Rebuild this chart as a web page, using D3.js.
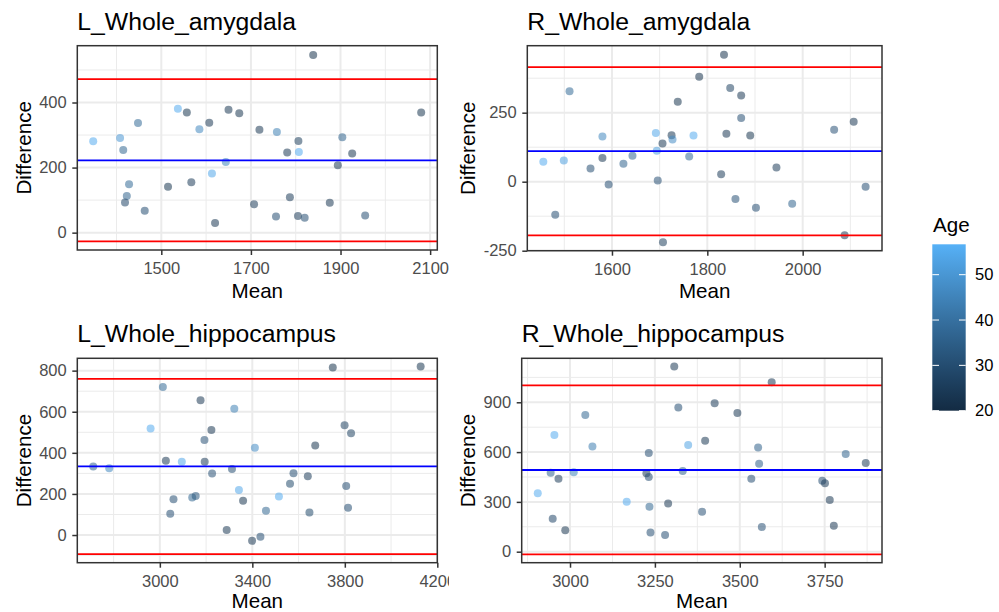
<!DOCTYPE html>
<html>
<head>
  <meta charset="utf-8">
  <script src="https://d3js.org/d3.v7.min.js"></script>
  <style>
    body {
      margin: 0;
      background-color: #fff;
      font-family: "Liberation Sans", Arial, Helvetica, sans-serif;
    }

    .tick text {
      fill: #4d4d4d;
      font-size: 16.5px;
      font-family: "Liberation Sans", Arial, sans-serif;
    }

    .tick line {
      stroke: #333;
      stroke-width: 1.5px;
    }

    .plot-title {
      font-size: 24.75px;
      fill: #000;
    }

    .axis-title {
      font-size: 20.6px;
      fill: #000;
    }
  </style>
</head>
<body>
  <div id="chart"></div>
  <script>
    // L_Whole_amygdala
    const lAmyMean = [1348, 1408, 1415, 1448, 1428, 1423, 1419, 1463, 1515, 1537, 1557, 1567,
      1585, 1607, 1613, 1620, 1644, 1650, 1674, 1707, 1719, 1756, 1758, 1781,
      1787, 1806, 1807, 1805, 1820, 1839, 1876, 1894, 1904, 1926, 1955, 2080];
    const lAmyDiff = [281, 291, 254, 337, 149, 113, 93, 67, 141, 381, 369, 155,
      318, 338, 182, 30, 217, 378, 367, 87, 316, 50, 309, 246,
      109, 282, 248, 51, 46, 546, 92, 207, 293, 243, 53, 369];
    const lAmyAge = [55, 50, 37, 38, 38, 36, 28, 30, 23, 55, 23, 25,
      46, 24, 54, 24, 45, 24, 23, 25, 24, 30, 44, 24,
      25, 26, 55, 25, 30, 22, 24, 24, 36, 23, 30, 23];
    const lAmyRef = [-26.6, 222.4, 471.7];

    // R_Whole_amygdala
    const rAmyMean = [1456, 1481, 1499, 1511, 1555, 1580, 1580, 1593, 1624, 1643, 1692, 1694,
      1696, 1706, 1707, 1725, 1727, 1738, 1762, 1771, 1783, 1829, 1835, 1840,
      1848, 1859, 1871, 1871, 1890, 1902, 1945, 1978, 2066, 2088, 2107, 2132];
    const rAmyDiff = [72, -120, 77, 328, 48, 164, 86, -10, 65, 94, 176, 112,
      4, 138, -219, 168, 153, 290, 91, 167, 380, 27, 460, 174,
      339, -63, 312, 231, 167, -94, 51, -80, 188, -194, 217, -18];
    const rAmyAge = [55, 30, 52, 38, 30, 46, 24, 30, 36, 37, 54, 52,
      31, 24, 26, 24, 47, 23, 38, 55, 22, 25, 22, 24,
      27, 31, 24, 30, 23, 30, 25, 36, 31, 24, 24, 30];
    const rAmyRef = [-194.4, 111.1, 415.4];

    // L_Whole_hippocampus
    const lHipMean = [2712, 2781, 2960, 3013, 3026, 3045, 3059, 3095, 3140, 3155, 3176, 3193,
      3194, 3223, 3226, 3289, 3312, 3322, 3342, 3360, 3399, 3411, 3435, 3459,
      3515, 3563, 3578, 3640, 3647, 3672, 3748, 3799, 3806, 3814, 3827, 4128];
    const lHipDiff = [334, 325, 518, 720, 362, 104, 174, 357, 182, 190, 656, 462,
      357, 511, 299, 24, 321, 615, 219, 167, -28, 425, -8, 118,
      187, 250, 300, 286, 109, 436, 815, 534, 238, 133, 495, 820];
    const lHipAge = [36, 46, 55, 38, 24, 30, 30, 54, 37, 33, 24, 31,
      25, 24, 31, 24, 30, 44, 54, 23, 24, 47, 30, 37,
      55, 29, 30, 25, 29, 23, 22, 27, 30, 30, 27, 23];
    const lHipRef = [-92.5, 334.3, 759.4];

    // R_Whole_hippocampus
    const rHipMean = [2905, 2943, 2949, 2954, 2966, 2986, 3011, 3045, 3066, 3167, 3225, 3232,
      3232, 3234, 3237, 3280, 3289, 3307, 3319, 3332, 3348, 3389, 3398, 3426,
      3493, 3534, 3554, 3557, 3565, 3594, 3743, 3751, 3765, 3777, 3812, 3871];
    const rHipDiff = [352, 476, 199, 703, 440, 129, 478, 824, 633, 301, 472, 595,
      450, 271, 115, 100, 291, 1115, 868, 486, 643, 241, 669, 894,
      836, 440, 627, 530, 149, 1020, 428, 412, 311, 157, 589, 534];
    const rHipAge = [55, 36, 28, 55, 25, 23, 45, 37, 43, 55, 24, 30,
      30, 37, 30, 30, 24, 24, 30, 36, 53, 31, 24, 25,
      24, 30, 35, 35, 31, 24, 30, 25, 24, 24, 36, 25];
    const rHipRef = [-16.1, 492.2, 1002.4];

    // Tick values
    const lAmyXTicks = [1500, 1700, 1900, 2100];
    const lAmyXMinor = [1400, 1600, 1800, 2000];
    const lAmyYTicks = [0, 200, 400];
    const lAmyYMinor = [100, 300, 500];

    const rAmyXTicks = [1600, 1800, 2000];
    const rAmyXMinor = [1500, 1700, 1900, 2100];
    const rAmyYTicks = [-250, 0, 250];
    const rAmyYMinor = [-125, 125, 375];

    const lHipXTicks = [3000, 3400, 3800, 4200];
    const lHipXMinor = [2800, 3200, 3600, 4000];
    const lHipYTicks = [0, 200, 400, 600, 800];
    const lHipYMinor = [-100, 100, 300, 500, 700];

    const rHipXTicks = [3000, 3250, 3500, 3750];
    const rHipXMinor = [2875, 3125, 3375, 3625, 3875];
    const rHipYTicks = [0, 300, 600, 900];
    const rHipYMinor = [150, 450, 750, 1050];

    const ageTicks = [20, 30, 40, 50];
    const ageRange = [20, 56.7];

    // Colour scale (ggplot default gradient)
    const color = d3.scaleLinear()
      .domain(ageRange)
      .range(["#132B43", "#56B1F7"])
      .interpolate(d3.interpolateLab);

    // plain labels, ASCII hyphen for negatives
    const fmt = d => String(d);

    const svg = d3.select("#chart")
      .append("svg")
      .attr("width", 999)
      .attr("height", 612)
      .style("background-color", "#fff");

    svg.append("defs").append("clipPath")
      .attr("id", "clip-left")
      .append("rect")
      .attr("x", 0).attr("y", 0)
      .attr("width", 449).attr("height", 612);

    function drawPanel(p) {
      const g = svg.append("g");
      if (p.clip) g.attr("clip-path", "url(#clip-left)");

      const x = d3.scaleLinear().domain(p.xDomain).range([p.left, p.right]);
      const y = d3.scaleLinear().domain(p.yDomain).range([p.bottom, p.top]);

      // panel background grid
      g.selectAll(".xminor").data(p.xMinor).join("line")
        .attr("x1", d => x(d)).attr("x2", d => x(d))
        .attr("y1", p.top).attr("y2", p.bottom)
        .attr("stroke", "#ebebeb").attr("stroke-width", 1);
      g.selectAll(".yminor").data(p.yMinor).join("line")
        .attr("x1", p.left).attr("x2", p.right)
        .attr("y1", d => y(d)).attr("y2", d => y(d))
        .attr("stroke", "#ebebeb").attr("stroke-width", 1);
      g.selectAll(".xmajor").data(p.xTicks.filter(d => d <= p.xDomain[1])).join("line")
        .attr("x1", d => x(d)).attr("x2", d => x(d))
        .attr("y1", p.top).attr("y2", p.bottom)
        .attr("stroke", "#ebebeb").attr("stroke-width", 2);
      g.selectAll(".ymajor").data(p.yTicks).join("line")
        .attr("x1", p.left).attr("x2", p.right)
        .attr("y1", d => y(d)).attr("y2", d => y(d))
        .attr("stroke", "#ebebeb").attr("stroke-width", 2);

      // points
      const pts = p.mean.map((m, i) => ({ m, d: p.diff[i], age: p.age[i] }));
      g.selectAll(".pt").data(pts).join("circle")
        .attr("cx", d => x(d.m))
        .attr("cy", d => y(d.d))
        .attr("r", 4)
        .attr("fill", d => color(d.age))
        .attr("fill-opacity", 0.54);

      // reference lines: lower limit, mean, upper limit
      g.selectAll(".ref").data(p.ref).join("line")
        .attr("x1", p.left).attr("x2", p.right)
        .attr("y1", d => y(d)).attr("y2", d => y(d))
        .attr("stroke", (d, i) => i === 1 ? "#0000ff" : "#ff0000")
        .attr("stroke-width", 1.8);

      // border
      g.append("rect")
        .attr("x", p.left).attr("y", p.top)
        .attr("width", p.right - p.left).attr("height", p.bottom - p.top)
        .attr("fill", "none").attr("stroke", "#333").attr("stroke-width", 1.5);

      // axes
      const xAxis = g.append("g")
        .attr("transform", `translate(0,${p.bottom})`)
        .call(d3.axisBottom(x).tickValues(p.xTicks).tickFormat(fmt).tickSize(5).tickPadding(7.3));
      xAxis.select(".domain").remove();

      const yAxis = g.append("g")
        .attr("transform", `translate(${p.left},0)`)
        .call(d3.axisLeft(y).tickValues(p.yTicks).tickFormat(fmt).tickSize(5).tickPadding(5.6));
      yAxis.select(".domain").remove();

      // titles
      g.append("text")
        .attr("class", "plot-title")
        .attr("x", p.left)
        .attr("y", p.titleY)
        .text(p.title);

      g.append("text")
        .attr("class", "axis-title")
        .attr("x", (p.left + p.right) / 2)
        .attr("y", p.meanY)
        .style("text-anchor", "middle")
        .text("Mean");

      g.append("text")
        .attr("class", "axis-title")
        .attr("transform", `translate(${p.yTitleX},${(p.top + p.bottom) / 2}) rotate(-90)`)
        .style("text-anchor", "middle")
        .text("Difference");
    }

    drawPanel({
      title: "L_Whole_amygdala", left: 77.3, right: 437.3, top: 45.7, bottom: 250,
      xDomain: [1312.5, 2116], yDomain: [-53.3, 574.6],
      xTicks: lAmyXTicks, xMinor: lAmyXMinor, yTicks: lAmyYTicks, yMinor: lAmyYMinor,
      mean: lAmyMean, diff: lAmyDiff, age: lAmyAge, ref: lAmyRef,
      titleY: 30, yTitleX: 30.5, meanY: 297.5
    });

    drawPanel({
      title: "R_Whole_amygdala", left: 527.3, right: 882, top: 45.7, bottom: 250.7,
      xDomain: [1422.4, 2166.4], yDomain: [-250, 492.7],
      xTicks: rAmyXTicks, xMinor: rAmyXMinor, yTicks: rAmyYTicks, yMinor: rAmyYMinor,
      mean: rAmyMean, diff: rAmyDiff, age: rAmyAge, ref: rAmyRef,
      titleY: 30, yTitleX: 475, meanY: 297.5
    });

    drawPanel({
      title: "L_Whole_hippocampus", left: 77.3, right: 437.3, top: 358.3, bottom: 562.7,
      xDomain: [2643, 4200], yDomain: [-134.7, 860],
      xTicks: lHipXTicks, xMinor: lHipXMinor, yTicks: lHipYTicks, yMinor: lHipYMinor,
      mean: lHipMean, diff: lHipDiff, age: lHipAge, ref: lHipRef,
      titleY: 341.7, yTitleX: 30.5, meanY: 607.5, clip: true
    });

    drawPanel({
      title: "R_Whole_hippocampus", left: 521.7, right: 882, top: 358.3, bottom: 562.7,
      xDomain: [2857.7, 3918.9], yDomain: [-66.3, 1165],
      xTicks: rHipXTicks, xMinor: rHipXMinor, yTicks: rHipYTicks, yMinor: rHipYMinor,
      mean: rHipMean, diff: rHipDiff, age: rHipAge, ref: rHipRef,
      titleY: 341.7, yTitleX: 475, meanY: 607.5
    });

    // Colour bar legend
    const barTop = 244.3, barBottom = 410.7, barLeft = 932.3, barW = 33.4;
    const ageY = d3.scaleLinear().domain(ageRange).range([barBottom, barTop]);

    const grad = svg.select("defs").append("linearGradient")
      .attr("id", "age-grad")
      .attr("x1", 0).attr("y1", 1).attr("x2", 0).attr("y2", 0);
    d3.range(0, 1.0001, 0.1).forEach(t => {
      grad.append("stop")
        .attr("offset", t)
        .attr("stop-color", color(ageRange[0] + t * (ageRange[1] - ageRange[0])));
    });

    svg.append("text")
      .attr("class", "axis-title")
      .attr("x", 933)
      .attr("y", 231.7)
      .text("Age");

    svg.append("rect")
      .attr("x", barLeft).attr("y", barTop)
      .attr("width", barW).attr("height", barBottom - barTop)
      .attr("fill", "url(#age-grad)");

    const legTicks = svg.append("g");
    legTicks.selectAll(".lt-l").data(ageTicks).join("line")
      .attr("x1", barLeft).attr("x2", barLeft + 6.7)
      .attr("y1", d => ageY(d)).attr("y2", d => ageY(d))
      .attr("stroke", "#fff").attr("stroke-width", 1);
    legTicks.selectAll(".lt-r").data(ageTicks).join("line")
      .attr("x1", barLeft + barW - 6.7).attr("x2", barLeft + barW)
      .attr("y1", d => ageY(d)).attr("y2", d => ageY(d))
      .attr("stroke", "#fff").attr("stroke-width", 1);
    legTicks.selectAll(".lt-t").data(ageTicks).join("text")
      .attr("x", 975)
      .attr("y", d => ageY(d))
      .attr("dy", "0.35em")
      .style("font-size", "16.5px")
      .style("fill", "#000")
      .text(d => d);
  </script>
</body>
</html>
